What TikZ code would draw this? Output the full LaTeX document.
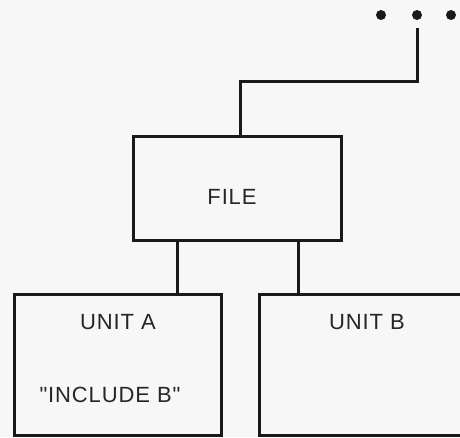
\documentclass[tikz,border=0pt]{standalone}
\usepackage{fontspec}
\setmainfont{Liberation Sans}[Ligatures=TeXOff]
\begin{document}
\begin{tikzpicture}[x=1pt,y=-1pt,
  box/.style={draw=black!90,line width=3pt,rectangle,inner sep=0pt},
  wire/.style={draw=black!90,line width=3pt},
  lbl/.style={font=\fontsize{22}{26}\selectfont\addfontfeature{LetterSpace=4},text=black!85},
  dot/.style={circle,fill=black!90,inner sep=0pt,minimum size=10pt}]
\fill[black!3] (0,0) rectangle (460,437);
\useasboundingbox (0,0) rectangle (460,437);
\clip (0,0) rectangle (460,437);
% dots
\node[dot] (d1) at (381,15) {};
\node[dot] (d2) at (417,15) {};
\node[dot] (d3) at (451,15) {};
% boxes
\node[box,minimum width=208pt,minimum height=104pt] (file) at (237,188) {};
\node[box,minimum width=207pt,minimum height=141pt] (unitA) at (117.5,364.5) {};
\node[box,minimum width=211pt,minimum height=141pt] (unitB) at (364.5,365) {};
% texts
\node[lbl] (tfile) at (232,197) {FILE};
\node[lbl] (tA) at (118,322) {UNIT A};
\node[lbl] (tinc) at (110,395) {"INCLUDE B"};
\node[lbl] (tB) at (367,322) {UNIT B};
% connectors
\coordinate (top) at (417,28);
\coordinate (bend) at (240,81);
\draw[wire] (top) |- (bend) -- (bend |- file.north);
\draw[wire] (file.south -| 177,0) -- (unitA.north -| 177,0);
\draw[wire] (file.south -| 298,0) -- (unitB.north -| 298,0);
\end{tikzpicture}
\end{document}
